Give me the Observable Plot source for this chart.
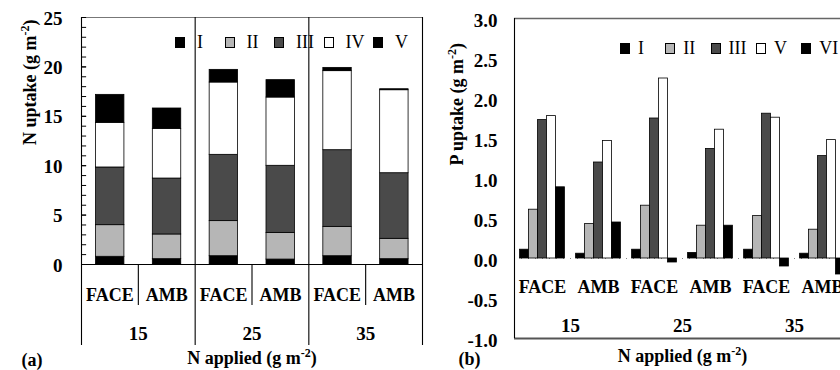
<!DOCTYPE html>
<html><head><meta charset="utf-8">
<script src="https://cdn.jsdelivr.net/npm/d3@7"></script>
<script src="https://cdn.jsdelivr.net/npm/@observablehq/plot@0.6"></script>
<style>
body{margin:0;background:#fff;overflow:hidden}
#fig{position:relative;width:840px;height:370px;overflow:hidden;background:#fff}
#fig svg{position:absolute;top:0;background:transparent;max-width:none}
.legend{position:absolute;display:flex;align-items:center;height:18px;font-family:"Liberation Serif","Times New Roman",Times,"DejaVu Serif",serif;font-size:18px;color:#000;line-height:1}
.legend .item{display:flex;align-items:center;flex:none;white-space:nowrap}
.legend .sw{width:10px;height:11px;border:1px solid #000;box-sizing:border-box}
</style></head>
<body>
<div id="fig"></div>
<script>
// ---- data ----
const treatments = ["FACE", "AMB", "FACE", "AMB", "FACE", "AMB"];
const nRates = ["15", "25", "35"];

// (a) N uptake (g m-2), stacked by component
const nSeries = ["I", "II", "III", "IV", "V"];
const nI   = [0.78, 0.54, 0.84, 0.50, 0.84, 0.54];
const nII  = [3.20, 2.50, 3.55, 2.70, 2.97, 2.06];
const nIII = [5.84, 5.66, 6.71, 6.79, 7.76, 6.64];
const nIV  = [4.52, 5.03, 7.32, 6.91, 8.00, 8.40];
const nV   = [2.83, 2.06, 1.28, 1.76, 0.33, 0.10];
const nTicks = [0, 5, 10, 15, 20, 25];
const nMinor = [1,2,3,4,5,6,7,8,9,10,11,12,13,14,15,16,17,18,19,20,21,22,23,24];

// (b) P uptake (g m-2), grouped by component
const pSeries = ["I", "II", "III", "V", "VI"];
const pI   = [0.11, 0.06, 0.11, 0.07, 0.11, 0.06];
const pII  = [0.61, 0.43, 0.66, 0.41, 0.53, 0.36];
const pIII = [1.73, 1.20, 1.75, 1.37, 1.81, 1.28];
const pV   = [1.78, 1.47, 2.25, 1.61, 1.76, 1.48];
const pVI  = [0.89, 0.45, -0.05, 0.41, -0.10, -0.20];
const pTicks = [3.0, 2.5, 2.0, 1.5, 1.0, 0.5, 0.0, -0.5, -1.0];

// ---- styles ----
const fillsA = ["#000", "#b6b6b6", "#4a4a4a", "#fff", "#000"];
const fillsB = ["#000", "#b6b6b6", "#4a4a4a", "#fff", "#000"];
const SERIF = "'Liberation Serif', 'Times New Roman', Times, 'DejaVu Serif', serif";
const bold = {fontFamily: SERIF, fontWeight: "bold", fontSize: 18, fill: "#000"};

// ---- table building ----
const nCols = [nI, nII, nIII, nIV, nV];
const nRows = [];
treatments.forEach((t, i) => {
  let c = 0;
  nSeries.forEach((s, k) => {
    const v = nCols[k][i];
    nRows.push({i, series: s, y1: c, y2: c + v});
    c += v;
  });
});
const pCols = [pI, pII, pIII, pV, pVI];
const pRows = [];
treatments.forEach((t, i) => pSeries.forEach((s, k) => pRows.push({i, k, series: s, value: pCols[k][i]})));

const plotA = Plot.plot({
  width: 424, height: 370, marginLeft: 81, marginRight: 2, marginTop: 17, marginBottom: 106,
  style: {fontFamily: SERIF},
  x: {domain: [0, 6], axis: null},
  y: {domain: [0, 25], axis: null},
  color: {domain: nSeries, range: fillsA},
  marks: [
    Plot.rect(nRows, {x1: d => d.i + 0.255, x2: d => d.i + 0.755, y1: "y1", y2: "y2", fill: "series", stroke: "#000", strokeWidth: 0.8}),
    Plot.ruleY([25], {x1: 0, x2: 6, stroke: "#777", strokeWidth: 1}),
    Plot.ruleY([0], {x1: 0, x2: 6, stroke: "#000", strokeWidth: 1.2}),
    Plot.ruleX([0, 2, 4, 6], {y1: 25, y2: -8.2, stroke: "#000", strokeWidth: 1.1}),
    Plot.ruleX([1, 3, 5], {y1: 0, y2: -4.15, stroke: "#000", strokeWidth: 1.1}),
    Plot.ruleY(nMinor.concat(nTicks), {x1: 0, x2: 0.09, stroke: "#000", strokeWidth: 1}),
    Plot.text(nTicks, {x: 0, y: d => d, text: d => String(d), dx: -19, dy: 1, textAnchor: "end", ...bold, fontSize: 19}),
    Plot.text(treatments, {x: (d, i) => i + 0.5, y: 0, dy: 31, ...bold}),
    Plot.text(nRates, {x: (d, i) => 2 * i + 1, y: 0, dy: 69, ...bold, fontSize: 19}),
    Plot.text(["N uptake (g m-2)"], {frameAnchor: "left", dx: -51, dy: 4, rotate: -90, ...bold}),
    Plot.text(["N applied (g m-2)"], {frameAnchor: "bottom", dy: 99, ...bold}),
    Plot.text(["(a)"], {frameAnchor: "bottom-left", dx: -60, dy: 101, ...bold})
  ]
});

const plotB = Plot.plot({
  width: 440, height: 370, marginLeft: 90, marginRight: 14, marginTop: 18, marginBottom: 32,
  style: {fontFamily: SERIF},
  x: {domain: [0, 6], axis: null},
  y: {domain: [-1, 3], axis: null},
  color: {domain: pSeries, range: fillsB},
  marks: [
    Plot.ruleY([0], {x1: 0, x2: 6, stroke: "#888", strokeDasharray: "1,6"}),
    Plot.rect(pRows, {x1: d => d.i + 0.1 + 0.16 * d.k, x2: d => d.i + 0.26 + 0.16 * d.k, y1: 0, y2: "value", fill: "series", stroke: "#000", strokeWidth: 0.8}),
    Plot.ruleY([3], {x1: 0, x2: 6, stroke: "#666", strokeWidth: 1.5}),
    Plot.ruleY([-1], {x1: 0, x2: 6, stroke: "#555", strokeWidth: 2}),
    Plot.ruleX([0], {y1: -1, y2: 3, stroke: "#000", strokeWidth: 1.1}),
    Plot.text(pTicks, {x: 0, y: d => d, text: d => d.toFixed(1), dx: -17, dy: 2, textAnchor: "end", ...bold, fontSize: 19}),
    Plot.text(treatments, {x: (d, i) => i + 0.5, y: 0, dy: 29, ...bold}),
    Plot.text(nRates, {x: (d, i) => 2 * i + 1, y: 0, dy: 67, ...bold, fontSize: 19}),
    Plot.text(["P uptake (g m-2)"], {frameAnchor: "left", dx: -57, dy: -13, rotate: -90, ...bold}),
    Plot.text(["N applied (g m-2)"], {frameAnchor: "bottom", dy: 23, ...bold}),
    Plot.text(["(b)"], {frameAnchor: "bottom-left", dx: -56, dy: 26, ...bold})
  ]
});

const NS = "http://www.w3.org/2000/svg";
function superscript(svg) {
  svg.querySelectorAll("text").forEach(t => {
    const s = t.textContent;
    const j = s.indexOf("-2)");
    if (j < 0) return;
    while (t.firstChild) t.removeChild(t.firstChild);
    const a = document.createElementNS(NS, "tspan"); a.textContent = s.slice(0, j);
    const b = document.createElementNS(NS, "tspan"); b.textContent = "-2";
    b.setAttribute("dy", "-7"); b.setAttribute("font-size", "12");
    const c = document.createElementNS(NS, "tspan"); c.textContent = ")"; c.setAttribute("dy", "7");
    t.append(a, b, c);
  });
}
superscript(plotA); superscript(plotB);

const fig = document.getElementById("fig");
plotA.style.left = "0px";
plotB.style.left = "424px";
fig.append(plotB, plotA);

function legend(series, colors, left, top, pitch, gap) {
  const div = document.createElement("div");
  div.className = "legend";
  div.style.left = left + "px"; div.style.top = top + "px";
  series.forEach((s, k) => {
    const item = document.createElement("span"); item.className = "item";
    item.style.width = pitch + "px";
    const sw = document.createElement("span"); sw.className = "sw"; sw.style.background = colors[k];
    sw.style.marginRight = gap + "px";
    const lb = document.createElement("span"); lb.textContent = s;
    item.append(sw, lb); div.append(item);
  });
  fig.append(div);
}
legend(nSeries, fillsA, 175, 33, 49.5, 12);
legend(pSeries, fillsB, 620, 39, 45.3, 8);
</script>
</body></html>
